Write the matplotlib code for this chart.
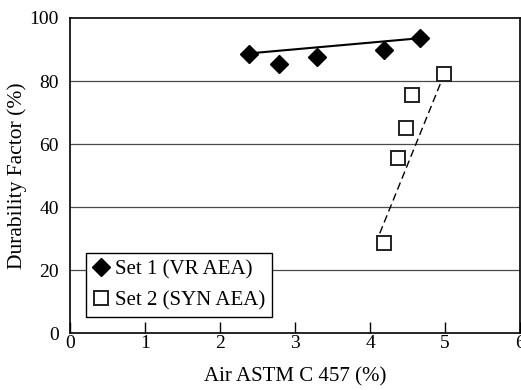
import matplotlib
matplotlib.use("Agg")
import matplotlib.pyplot as plt
from matplotlib.lines import Line2D

plt.rcParams['font.family'] = ['Liberation Serif', 'DejaVu Serif']

# Set 1: vinsol resin air-entraining admixture
set1_air = [2.39, 2.79, 3.29, 4.18, 4.67]
set1_df = [88.6, 85.5, 87.7, 89.9, 93.8]
set1_trend_air = [2.40, 4.67]
set1_trend_df = [88.8, 93.6]

# Set 2: synthetic air-entraining admixture
set2_air = [4.98, 4.56, 4.48, 4.37, 4.18]
set2_df = [82.2, 75.5, 65.2, 55.7, 28.5]
set2_trend_air = [4.13, 4.99]
set2_trend_df = [31.7, 82.2]

x_ticks = [0, 1, 2, 3, 4, 5, 6]
y_ticks = [0, 20, 40, 60, 80, 100]

fig = plt.figure(figsize=(5.21, 3.90), dpi=100)
ax = fig.add_axes([70 / 521, 1 - 333.3 / 390, 450 / 521, (333.3 - 18) / 390])

for y in y_ticks[1:-1]:
    ax.axhline(y, color='#4a4a4a', lw=0.9, zorder=1)

ax.plot(set1_trend_air, set1_trend_df, color='black', lw=1.5, zorder=2)
ax.plot(set2_trend_air, set2_trend_df, color='black', lw=1.0,
        dashes=(5.5, 3), zorder=2)

ax.plot(set1_air, set1_df, linestyle='none', marker='D', ms=9.5,
        color='black', mec='black', zorder=3)
ax.plot(set2_air, set2_df, linestyle='none', marker='s', ms=10,
        mfc='white', mec='#222222', mew=1.4, zorder=3)

ax.set_xlim(0, 6)
ax.set_ylim(0, 100)
ax.set_xticks(x_ticks)
ax.set_yticks(y_ticks)
ax.tick_params(axis='x', direction='in', length=8, width=1.0,
               labelsize=14, pad=1.5)
ax.tick_params(axis='y', length=0, labelsize=14, pad=8)
for s in ax.spines.values():
    s.set_linewidth(1.2)

ax.set_xlabel('Air ASTM C 457 (%)', fontsize=15, labelpad=11)
ax.set_ylabel('Durability Factor (%)', fontsize=15.5, labelpad=2)

handles = [
    Line2D([], [], linestyle='none', marker='D', ms=9.5, color='black'),
    Line2D([], [], linestyle='none', marker='s', ms=10, mfc='white',
           mec='#222222', mew=1.4),
]
leg = ax.legend(handles, ['Set 1 (VR AEA)', 'Set 2 (SYN AEA)'],
                loc='lower left', bbox_to_anchor=(16 / 450, 16 / 315.3),
                borderaxespad=0, fontsize=15, fancybox=False,
                edgecolor='black', framealpha=1, handlelength=0.8,
                handletextpad=0.25, borderpad=0.33, labelspacing=0.55)
leg.get_frame().set_linewidth(1.0)

fig.savefig('out.png', dpi=100)
